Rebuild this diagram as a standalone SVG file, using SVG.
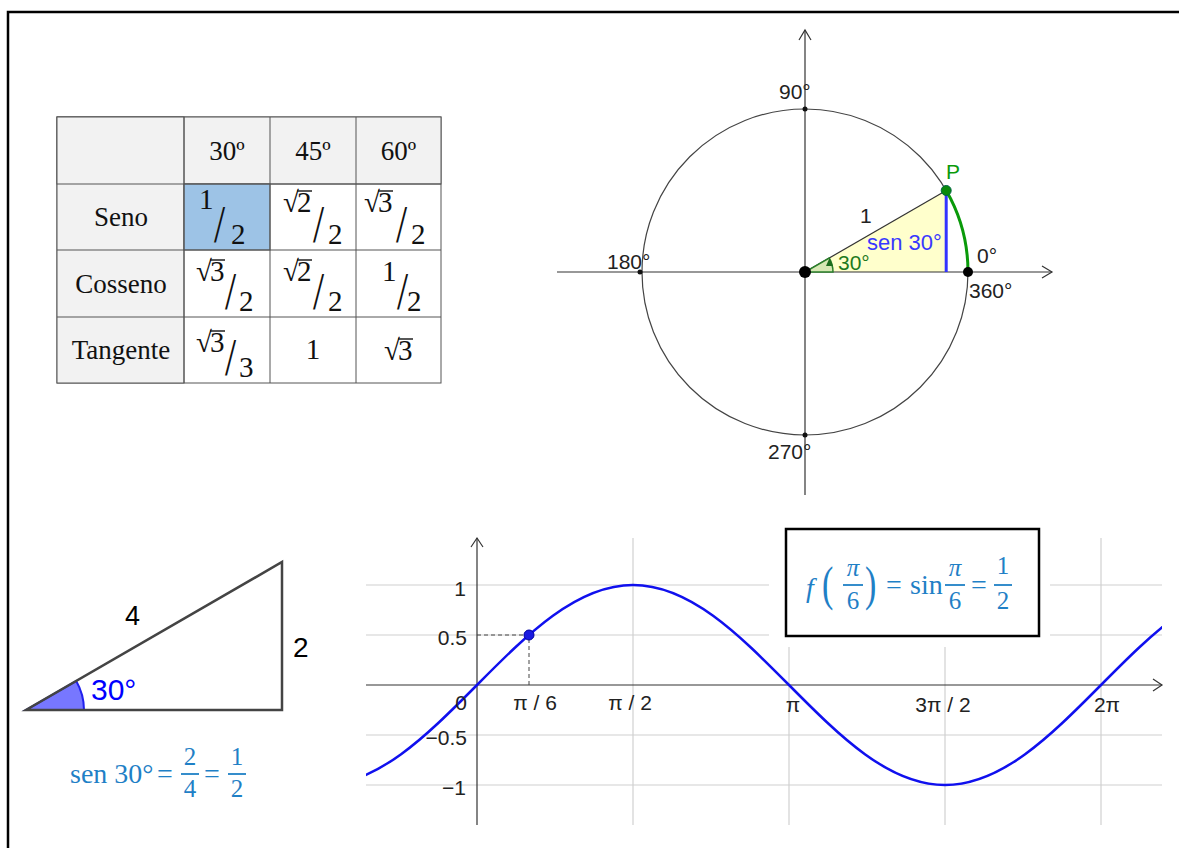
<svg xmlns="http://www.w3.org/2000/svg" width="1179" height="848" viewBox="0 0 1179 848">
<style>
.tb{font-family:"Liberation Serif",serif;font-size:27px;fill:#111}
.fr{font-family:"Liberation Serif",serif;font-size:29px;fill:#111}
.sl{font-family:"Liberation Serif",serif;font-size:40px;fill:#111}
.ov{stroke:#111;stroke-width:1.4}
.cell{stroke:#555;stroke-width:1}
.lab{font-family:"Liberation Sans",Arial,sans-serif;font-size:21px;fill:#222}
.ax{stroke:#333;stroke-width:1.2;fill:none}
.grid{stroke:#d0d0d0;stroke-width:1.2}
.mf{font-family:"Liberation Serif",serif;font-size:28px;fill:#1f80c6}
.mfr{font-family:"Liberation Serif",serif;font-size:25px;fill:#1f80c6}
.bar{stroke:#1f80c6;stroke-width:1.8}
</style>
<defs>
<clipPath id="gclip"><rect x="366" y="530" width="796" height="300"/></clipPath>
</defs>
<rect x="0" y="0" width="1179" height="848" fill="#fff"/>
<path d="M8,848 V12 H1179" fill="none" stroke="#000" stroke-width="2.5"/>

<g id="table">
<rect class="cell" x="57" y="117" width="384" height="266" fill="#fff"/>
<rect class="cell" x="57" y="117" width="384" height="67" fill="#f2f2f2"/>
<rect class="cell" x="57" y="117" width="127" height="266" fill="#f2f2f2"/>
<rect class="cell" x="184" y="184" width="86" height="66" fill="#9dc3e6"/>
<g class="cell">
<line x1="184" y1="117" x2="184" y2="383"/>
<line x1="270" y1="117" x2="270" y2="383"/>
<line x1="356" y1="117" x2="356" y2="383"/>
<line x1="57" y1="184" x2="441" y2="184"/>
<line x1="57" y1="250" x2="441" y2="250"/>
<line x1="57" y1="317" x2="441" y2="317"/>
</g>
<text class="tb" x="227" y="160" text-anchor="middle">30º</text>
<text class="tb" x="313" y="160" text-anchor="middle">45º</text>
<text class="tb" x="398.5" y="160" text-anchor="middle">60º</text>
<text class="tb" x="121" y="226" text-anchor="middle">Seno</text>
<text class="tb" x="121" y="293" text-anchor="middle">Cosseno</text>
<text class="tb" x="121" y="359" text-anchor="middle">Tangente</text>
<!-- Seno -->
<text class="fr" x="199" y="209">1</text>
<text class="sl" transform="translate(214,242) scale(1,1.3)">/</text>
<text class="fr" x="231" y="244">2</text>
<text class="fr" x="283" y="212">√</text><text class="fr" x="297" y="212">2</text><line class="ov" x1="297" y1="191" x2="312" y2="191"/>
<text class="sl" transform="translate(313,242) scale(1,1.3)">/</text>
<text class="fr" x="328" y="244">2</text>
<text class="fr" x="364" y="212">√</text><text class="fr" x="378" y="212">3</text><line class="ov" x1="378" y1="191" x2="393" y2="191"/>
<text class="sl" transform="translate(396,242) scale(1,1.3)">/</text>
<text class="fr" x="411" y="244">2</text>
<!-- Cosseno -->
<text class="fr" x="196" y="281">√</text><text class="fr" x="210" y="281">3</text><line class="ov" x1="210" y1="260" x2="225" y2="260"/>
<text class="sl" transform="translate(225,309) scale(1,1.3)">/</text>
<text class="fr" x="239" y="311">2</text>
<text class="fr" x="283" y="281">√</text><text class="fr" x="297" y="281">2</text><line class="ov" x1="297" y1="260" x2="312" y2="260"/>
<text class="sl" transform="translate(313,309) scale(1,1.3)">/</text>
<text class="fr" x="328" y="311">2</text>
<text class="fr" x="382" y="281">1</text>
<text class="sl" transform="translate(397,309) scale(1,1.3)">/</text>
<text class="fr" x="407" y="311">2</text>
<!-- Tangente -->
<text class="fr" x="196" y="352">√</text><text class="fr" x="210" y="352">3</text><line class="ov" x1="210" y1="331" x2="225" y2="331"/>
<text class="sl" transform="translate(225,375) scale(1,1.3)">/</text>
<text class="fr" x="239" y="377">3</text>
<text class="fr" x="313" y="359" text-anchor="middle">1</text>
<text class="fr" x="384" y="360">√</text><text class="fr" x="398" y="360">3</text><line class="ov" x1="398" y1="339" x2="413" y2="339"/>
</g>

<g id="unit-circle">
<path d="M805,272 L946.2,190.5 L946.2,272 Z" fill="#ffffcc" stroke="none"/>
<line x1="805" y1="272" x2="946.2" y2="190.5" stroke="#333" stroke-width="1.2"/>
<circle cx="805" cy="272" r="163" fill="none" stroke="#444" stroke-width="1.2"/>
<line class="ax" x1="557" y1="272" x2="1052" y2="272"/>
<polyline class="ax" points="1042,266 1052,272 1042,278"/>
<line class="ax" x1="805" y1="495" x2="805" y2="30"/>
<polyline class="ax" points="799,40 805,30 811,40"/>
<path d="M805,272 L833,272 A28,28 0 0 0 829.2,258 Z" fill="#d6e8b4" stroke="#2a7f2a" stroke-width="1.5"/>
<path d="M826,266 L829.5,258 L833,266 Z" fill="#1e6e1e"/>
<line x1="946.2" y1="190.5" x2="946.2" y2="272" stroke="#3333ff" stroke-width="3"/>
<path d="M946.2,190.5 A163,163 0 0 1 968,272" fill="none" stroke="#0a9a0a" stroke-width="3"/>
<circle cx="640" cy="272" r="2.5" fill="#111"/>
<circle cx="805" cy="109" r="2.5" fill="#111"/>
<circle cx="805" cy="435" r="2.5" fill="#111"/>
<circle cx="805" cy="272" r="6" fill="#000"/>
<circle cx="968" cy="272" r="5" fill="#000"/>
<circle cx="946.2" cy="190.5" r="5" fill="#0a8a0a" stroke="#064" stroke-width="1"/>
<text class="lab" x="779" y="99">90°</text>
<text class="lab" x="607" y="269">180°</text>
<text class="lab" x="977" y="263">0°</text>
<text class="lab" x="969" y="298">360°</text>
<text class="lab" x="768" y="459">270°</text>
<text class="lab" x="946" y="179" style="fill:#0a9a0a">P</text>
<text class="lab" x="860" y="223">1</text>
<text class="lab" x="867" y="250" style="fill:#3838ff;font-size:22px">sen 30°</text>
<text class="lab" x="838" y="270" style="fill:#1e7a1e">30°</text>
</g>

<g id="triangle">
<path d="M26,710 L84,710 A58,58 0 0 0 76.2,681 Z" fill="#7777ff" stroke="#2020ee" stroke-width="2"/>
<path d="M26,710 L282,710 L282,562 Z" fill="none" stroke="#444" stroke-width="2.5" stroke-linejoin="miter"/>
<text x="125" y="625" font-family="Liberation Sans,Arial,sans-serif" font-size="27" fill="#000">4</text>
<text x="293" y="657" font-family="Liberation Sans,Arial,sans-serif" font-size="28" fill="#000">2</text>
<text x="91" y="700" font-family="Liberation Sans,Arial,sans-serif" font-size="30" fill="#0000ff">30°</text>
</g>

<g id="triangle-formula">
<text class="mf" x="70" y="783">sen 30°</text>
<text class="mf" x="157" y="783">=</text>
<text class="mfr" x="190" y="765" text-anchor="middle">2</text>
<line class="bar" x1="181" y1="774" x2="199" y2="774"/>
<text class="mfr" x="190" y="797" text-anchor="middle">4</text>
<text class="mf" x="204" y="783">=</text>
<text class="mfr" x="237" y="765" text-anchor="middle">1</text>
<line class="bar" x1="228" y1="774" x2="246" y2="774"/>
<text class="mfr" x="237" y="797" text-anchor="middle">2</text>
</g>

<g id="graph">
<g class="grid">
<line x1="366" y1="585" x2="1162" y2="585"/>
<line x1="366" y1="635" x2="1162" y2="635"/>
<line x1="366" y1="735" x2="1162" y2="735"/>
<line x1="366" y1="785" x2="1162" y2="785"/>
<line x1="633" y1="538" x2="633" y2="825"/>
<line x1="789" y1="538" x2="789" y2="825"/>
<line x1="945" y1="538" x2="945" y2="825"/>
<line x1="1101" y1="538" x2="1101" y2="825"/>
</g>
<rect x="769" y="520" width="281" height="127" fill="#fff"/>
<line class="ax" x1="366" y1="685" x2="1162" y2="685"/>
<polyline class="ax" points="1153,679 1162,685 1153,691"/>
<line class="ax" x1="477" y1="825" x2="477" y2="538"/>
<polyline class="ax" points="471,547 477,538 483,547"/>
<path clip-path="url(#gclip)" d="M321,785 C377.47,785 426.13,736.23 477,685 C527.87,633.77 576.53,585 633,585 C689.47,585 738.13,633.77 789,685 C839.87,736.23 888.53,785 945,785 C1001.47,785 1050.13,736.23 1101,685 C1151.87,633.77 1200.53,585 1257,585" fill="none" stroke="#1010ee" stroke-width="2.5"/>
<path d="M477,635 H529 V685" fill="none" stroke="#444" stroke-width="1" stroke-dasharray="4,3"/>
<circle cx="529" cy="635" r="5" fill="#1a1ae0" stroke="#0000a0" stroke-width="1"/>
<text class="lab" x="466" y="596" text-anchor="end">1</text>
<text class="lab" x="467" y="645" text-anchor="end">0.5</text>
<text class="lab" x="467" y="710" text-anchor="end">0</text>
<text class="lab" x="467" y="745" text-anchor="end">−0.5</text>
<text class="lab" x="466" y="795" text-anchor="end">−1</text>
<text class="lab" x="535" y="710" text-anchor="middle">π / 6</text>
<text class="lab" x="630" y="710" text-anchor="middle">π / 2</text>
<text class="lab" x="793" y="712" text-anchor="middle">π</text>
<text class="lab" x="943" y="712" text-anchor="middle">3π / 2</text>
<text class="lab" x="1107" y="712" text-anchor="middle">2π</text>
</g>

<g id="formula-box">
<rect x="786" y="529" width="253" height="107" fill="#fff" stroke="#000" stroke-width="2.5"/>
<text class="mf" x="806" y="597" font-style="italic">f</text>
<text class="mf" transform="translate(822,600) scale(1,1.4)" style="font-size:34px">(</text>
<text class="mf" transform="translate(865,600) scale(1,1.4)" style="font-size:34px">)</text>
<text class="mfr" x="853" y="576" text-anchor="middle" font-style="italic">π</text>
<line class="bar" x1="843" y1="585" x2="863" y2="585"/>
<text class="mfr" x="853" y="609" text-anchor="middle">6</text>
<text class="mf" x="886" y="594">=</text>
<text class="mf" x="910" y="594">sin</text>
<text class="mfr" x="955" y="576" text-anchor="middle" font-style="italic">π</text>
<line class="bar" x1="945" y1="585" x2="965" y2="585"/>
<text class="mfr" x="955" y="609" text-anchor="middle">6</text>
<text class="mf" x="971" y="594">=</text>
<text class="mfr" x="1003" y="574" text-anchor="middle">1</text>
<line class="bar" x1="994" y1="585" x2="1012" y2="585"/>
<text class="mfr" x="1003" y="609" text-anchor="middle">2</text>
</g>
</svg>
